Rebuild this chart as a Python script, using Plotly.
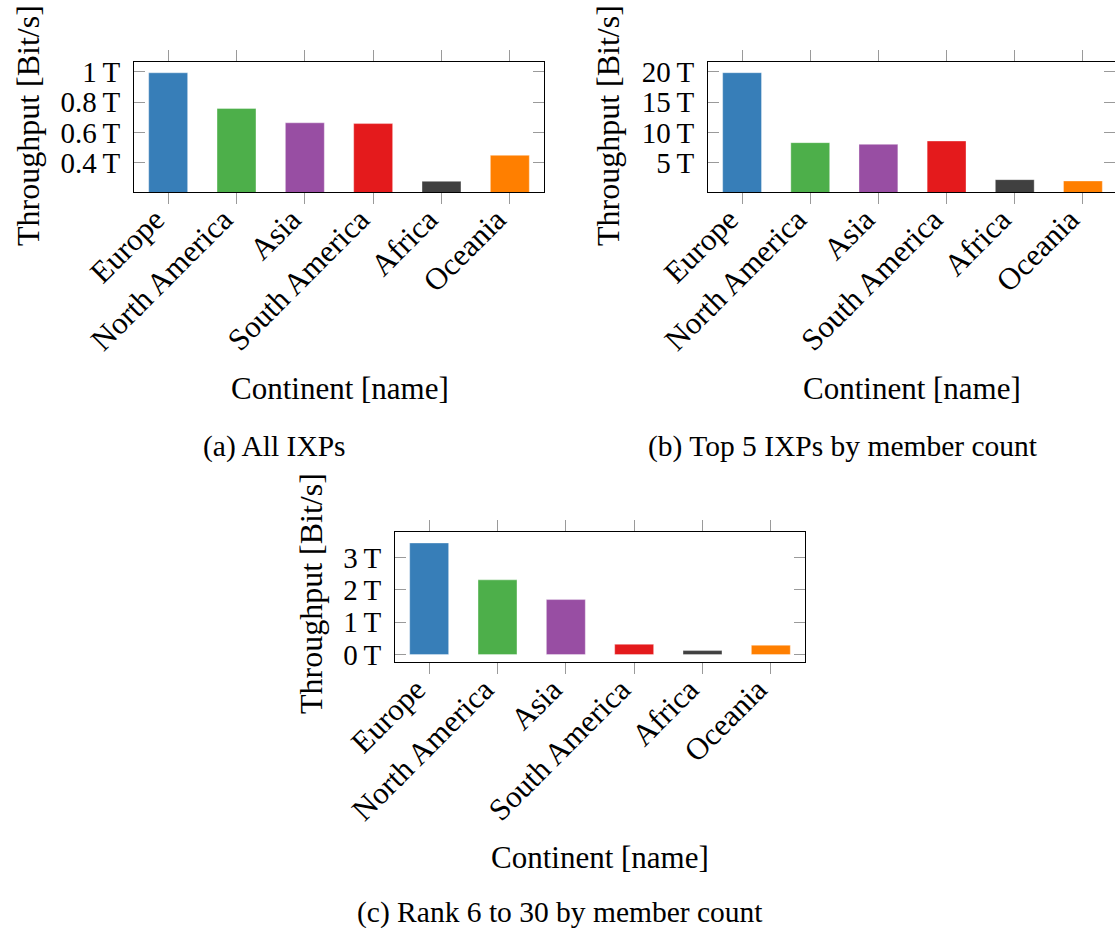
import plotly.graph_objects as go

W, H = 1115, 928

categories = ["Europe", "North America", "Asia", "South America", "Africa", "Oceania"]
colors = ["#377eb8", "#4daf4a", "#984ea3", "#e41a1c", "#404040", "#ff7f00"]

# Throughput in Tbit/s
all_ixps = [0.993, 0.758, 0.664, 0.659, 0.279, 0.450]
top5_ixps = [19.84, 8.34, 8.06, 8.61, 2.26, 2.04]
rank6_30 = [3.45, 2.31, 1.70, 0.317, 0.123, 0.287]

ticks_a = [0.4, 0.6, 0.8, 1.0]
ticktext_a = ["0.4\u2009T", "0.6\u2009T", "0.8\u2009T", "1\u2009T"]
ticks_b = [5, 10, 15, 20]
ticktext_b = ["5\u2009T", "10\u2009T", "15\u2009T", "20\u2009T"]
ticks_c = [0, 1, 2, 3]
ticktext_c = ["0\u2009T", "1\u2009T", "2\u2009T", "3\u2009T"]

captions = ["(a) All IXPs", "(b) Top 5 IXPs by member count", "(c) Rank 6 to 30 by member count"]
ytitle = "Throughput [Bit/s]"
xtitle = "Continent [name]"

FONT = "Liberation Serif"
FS_YTICK = 29
FS_XTICK = 31
FS_XTITLE = 31
FS_YTITLE = 32
FS_CAP = 29.5


def px(x):
    return x / W


def py(y):
    return 1 - y / H


fig = go.Figure()

panels = [
    # values, box (x0, x1, y0, y1) in px, yrange, ticks, ticktext
    (all_ixps, (134, 544, 62, 192), [0.209, 1.064], ticks_a, ticktext_a),
    (top5_ixps, (708, 1117, 62, 192), [0.23, 21.6], ticks_b, ticktext_b),
    (rank6_30, (395, 805, 532, 662), [-0.23, 3.79], ticks_c, ticktext_c),
]

annotations = []
for i, (vals, box, yr, tv, tt) in enumerate(panels, start=1):
    sfx = "" if i == 1 else str(i)
    x0, x1, y0, y1 = box
    fig.add_trace(go.Bar(
        x=categories, y=vals,
        marker=dict(color=colors, line=dict(color="rgba(255,255,255,0.35)", width=1)),
        width=0.57,
        xaxis="x" + sfx, yaxis="y" + sfx,
        showlegend=False, hoverinfo="x+y",
    ))
    xd = [px(x0), min(1.0, px(x1))]
    xr = [-0.5, 5.5]
    if x1 > W:
        span = 6.0 * (W - x0) / (x1 - x0)
        xr = [-0.5, -0.5 + span]
    fig.update_layout(**{
        "xaxis" + sfx: dict(
            domain=xd, range=xr, anchor="y" + sfx,
            type="category", automargin=False,
            showline=True, linecolor="black", linewidth=1, mirror="ticks",
            ticks="outside", ticklen=11, tickcolor="#9a9a9a", tickwidth=1,
            tickangle=-45, showgrid=False, zeroline=False,
            tickfont=dict(family=FONT, size=FS_XTICK, color="black"),
            ticklabelstandoff=-15, ticklabelshift=-13,
        ),
        "yaxis" + sfx: dict(
            domain=[py(y1), py(y0)], range=yr, anchor="x" + sfx,
            automargin=False,
            showline=True, linecolor="black", linewidth=1, mirror="ticks",
            ticks="inside", ticklen=11, tickcolor="#9a9a9a", tickwidth=1,
            tickvals=tv, ticktext=tt, showgrid=False, zeroline=False,
            tickfont=dict(family=FONT, size=FS_YTICK, color="black"),
            ticklabelstandoff=7,
        ),
    })

ytitle_pos = [(28, 126), (608, 126), (311, 594)]
xtitle_pos = [(340, 388), (912, 388), (600, 857)]
cap_pos = [(274, 446), (843, 446), (560, 912)]
for (yx, yy), (xx, xy), (cx, cy), cap in zip(ytitle_pos, xtitle_pos, cap_pos, captions):
    annotations.append(dict(x=px(yx), y=py(yy), xref="paper", yref="paper", text=ytitle,
                            textangle=-90, showarrow=False, xanchor="center", yanchor="middle",
                            font=dict(family=FONT, size=FS_YTITLE, color="black")))
    annotations.append(dict(x=px(xx), y=py(xy), xref="paper", yref="paper", text=xtitle,
                            showarrow=False, xanchor="center", yanchor="middle",
                            font=dict(family=FONT, size=FS_XTITLE, color="black")))
    annotations.append(dict(x=px(cx), y=py(cy), xref="paper", yref="paper", text=cap,
                            showarrow=False, xanchor="center", yanchor="middle",
                            font=dict(family=FONT, size=FS_CAP, color="black")))

fig.update_layout(
    width=W, height=H,
    margin=dict(l=0, r=0, t=0, b=0, autoexpand=False),
    paper_bgcolor="white", plot_bgcolor="white",
    annotations=annotations,
)

fig.write_html("out.html", config={"displayModeBar": False},
               post_script="document.body.style.margin='0';")
